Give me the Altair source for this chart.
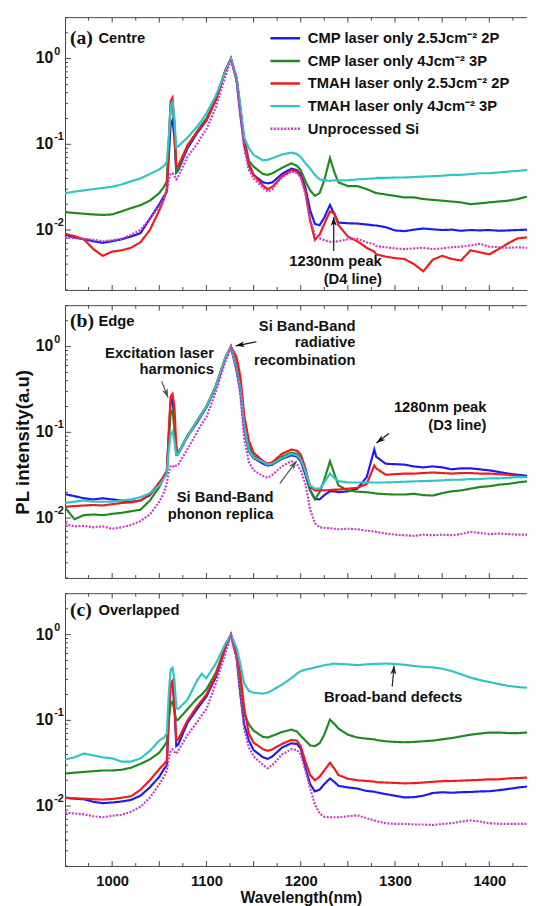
import math
import altair as alt
import pandas as pd

# ---------------- data ----------------
WL = [950, 960, 970, 980, 990, 1000, 1010, 1020, 1030, 1040, 1050,
      1055, 1058, 1060, 1062, 1064, 1066, 1068, 1070,
      1080, 1090, 1095, 1100, 1110, 1120,
      1126, 1132, 1136, 1140, 1145, 1150,
      1160, 1165, 1170, 1180, 1190, 1196, 1200, 1205, 1210, 1215, 1220, 1225, 1231, 1236, 1240,
      1250, 1260, 1270, 1278, 1280,
      1290, 1300, 1310, 1320, 1330, 1340, 1350, 1360, 1370, 1380, 1390, 1400, 1410, 1420, 1430, 1440]

SERIES = ["CMP laser only 2.5Jcm\u207b\u00b2 2P", "CMP laser only 4Jcm\u207b\u00b2 3P",
          "TMAH laser only 2.5Jcm\u207b\u00b2 2P", "TMAH laser only 4Jcm\u207b\u00b2 3P",
          "Unprocessed Si"]
COLORS = ["#1c1cf0", "#1f8a1f", "#f21b1b", "#30c4c4", "#c83ac8"]
DASHES = [[1, 0], [1, 0], [1, 0], [1, 0], [2, 1.5]]

# ---- panel (a) Centre ----
BLUE_A = [0.0088, 0.0082, 0.0078, 0.0074, 0.0071, 0.0074, 0.0078, 0.0084, 0.0092, 0.0135, 0.020,
          0.025, 0.028, 0.07, 0.17, 0.19, 0.12, 0.047, 0.050,
          0.090, 0.135, 0.16, 0.19, 0.33, 0.72,
          1.0, 0.55, 0.22, 0.10, 0.056, 0.044,
          0.036, 0.035, 0.036, 0.045, 0.052, 0.050, 0.045, 0.031, 0.017, 0.0118, 0.0114, 0.014, 0.0196, 0.015, 0.0122,
          0.012, 0.0119, 0.0116, 0.0113, 0.0113,
          0.0108, 0.0099, 0.0097, 0.0101, 0.0104, 0.0102, 0.0100, 0.0101, 0.0098, 0.0100, 0.0099, 0.0100, 0.0098, 0.0099, 0.0100, 0.0101]
GREEN_A = [0.0162, 0.0158, 0.0155, 0.0152, 0.0150, 0.0152, 0.0165, 0.018, 0.0195, 0.022, 0.027,
           0.032, 0.037, 0.10, 0.28, 0.30, 0.16, 0.048, 0.052,
           0.095, 0.14, 0.17, 0.20, 0.34, 0.72,
           1.0, 0.58, 0.25, 0.12, 0.064, 0.055,
           0.045, 0.044, 0.046, 0.053, 0.060, 0.056, 0.050, 0.037, 0.029, 0.025, 0.027, 0.038, 0.069, 0.046, 0.036,
           0.0325, 0.0325, 0.030, 0.0275, 0.027,
           0.026, 0.025, 0.024, 0.024, 0.023, 0.0225, 0.022, 0.0215, 0.021, 0.020, 0.0205, 0.021, 0.0215, 0.022, 0.023, 0.0245]
RED_A = [0.0090, 0.0085, 0.0078, 0.0060, 0.0050, 0.0056, 0.0058, 0.0062, 0.0072, 0.0100, 0.017,
         0.023, 0.030, 0.10, 0.32, 0.35, 0.18, 0.055, 0.056,
         0.098, 0.14, 0.165, 0.19, 0.33, 0.72,
         1.0, 0.60, 0.26, 0.11, 0.060, 0.044,
         0.033, 0.030, 0.032, 0.042, 0.050, 0.048, 0.042, 0.028, 0.0129, 0.0077, 0.0088, 0.0118, 0.0165, 0.0155, 0.0114,
         0.0084, 0.0074, 0.0062, 0.0056, 0.0052,
         0.0049, 0.0047, 0.0046, 0.0040, 0.0033, 0.0045, 0.0050, 0.0046, 0.0044, 0.0058, 0.0055, 0.0052, 0.0060, 0.0070, 0.0080, 0.0082]
CYAN_A = [0.027, 0.028, 0.029, 0.030, 0.031, 0.032, 0.034, 0.037, 0.040, 0.045, 0.051,
          0.056, 0.062, 0.12, 0.28, 0.31, 0.20, 0.092, 0.095,
          0.12, 0.16, 0.19, 0.23, 0.37, 0.70,
          1.0, 0.60, 0.28, 0.12, 0.090, 0.075,
          0.065, 0.066, 0.069, 0.076, 0.080, 0.077, 0.071, 0.060, 0.052, 0.044, 0.039, 0.038, 0.0375, 0.038, 0.038,
          0.038, 0.039, 0.0395, 0.040, 0.0405,
          0.0405, 0.041, 0.041, 0.0415, 0.042, 0.0425, 0.043, 0.044, 0.044, 0.045, 0.046, 0.046, 0.047, 0.048, 0.049, 0.050]
MAG_A = [0.0082, 0.0080, 0.0079, 0.0077, 0.0074, 0.0076, 0.0079, 0.0088, 0.0100, 0.0135, 0.019,
         0.024, 0.029, 0.038, 0.045, 0.046, 0.043, 0.039, 0.042,
         0.072, 0.10, 0.125, 0.15, 0.27, 0.62,
         0.97, 0.55, 0.22, 0.09, 0.050, 0.040,
         0.031, 0.028, 0.030, 0.041, 0.048, 0.046, 0.041, 0.026, 0.013, 0.0088, 0.0080, 0.0076, 0.0073, 0.0073, 0.0074,
         0.0078, 0.0079, 0.0072, 0.0068, 0.0065,
         0.0063, 0.0061, 0.0060, 0.0061, 0.0062, 0.0060, 0.0061, 0.0063, 0.0064, 0.0066, 0.0069, 0.0064, 0.0063, 0.0062, 0.0063, 0.0062]

# ---- panel (b) Edge ----
BLUE_B = [0.019, 0.018, 0.017, 0.0165, 0.017, 0.0165, 0.016, 0.0155, 0.016, 0.0185, 0.025,
          0.031, 0.035, 0.09, 0.23, 0.25, 0.13, 0.055, 0.056,
          0.090, 0.13, 0.16, 0.195, 0.34, 0.72,
          1.0, 0.52, 0.30, 0.11, 0.060, 0.050,
          0.043, 0.041, 0.042, 0.049, 0.054, 0.052, 0.046, 0.032, 0.021, 0.0168, 0.0165, 0.0185, 0.0205, 0.0205, 0.020,
          0.0205, 0.022, 0.030, 0.063, 0.052,
          0.043, 0.0425, 0.042, 0.040, 0.039, 0.040, 0.039, 0.037, 0.038, 0.038, 0.037, 0.036, 0.0345, 0.033, 0.032, 0.031]
GREEN_B = [0.0133, 0.0097, 0.0108, 0.0110, 0.0108, 0.0112, 0.0115, 0.0120, 0.0125, 0.016, 0.023,
           0.030, 0.034, 0.08, 0.17, 0.18, 0.11, 0.055, 0.057,
           0.092, 0.135, 0.165, 0.20, 0.35, 0.73,
           1.0, 0.62, 0.40, 0.14, 0.068, 0.053,
           0.046, 0.043, 0.044, 0.052, 0.058, 0.056, 0.050, 0.035, 0.021, 0.0165, 0.020, 0.028, 0.046, 0.032, 0.024,
           0.021, 0.0203, 0.0200, 0.0195, 0.0193,
           0.019, 0.0188, 0.0188, 0.0192, 0.0185, 0.0183, 0.0195, 0.0205, 0.021, 0.022, 0.023, 0.0235, 0.0245, 0.025, 0.026, 0.0268]
RED_B = [0.0135, 0.0138, 0.0140, 0.0142, 0.0140, 0.0145, 0.0150, 0.0152, 0.0160, 0.019, 0.026,
         0.031, 0.035, 0.10, 0.26, 0.28, 0.20, 0.070, 0.056,
         0.090, 0.135, 0.165, 0.20, 0.35, 0.74,
         1.0, 0.75, 0.45, 0.16, 0.080, 0.058,
         0.046, 0.043, 0.045, 0.056, 0.063, 0.061, 0.055, 0.038, 0.023, 0.021, 0.021, 0.021, 0.0212, 0.0215, 0.0215,
         0.022, 0.0225, 0.025, 0.041, 0.038,
         0.032, 0.0325, 0.033, 0.033, 0.0335, 0.034, 0.0335, 0.033, 0.0335, 0.0335, 0.033, 0.033, 0.0325, 0.032, 0.031, 0.030]
CYAN_B = [0.0150, 0.0155, 0.0160, 0.0155, 0.0155, 0.0155, 0.0160, 0.0165, 0.0175, 0.0195, 0.024,
          0.029, 0.033, 0.060, 0.095, 0.102, 0.080, 0.055, 0.056,
          0.090, 0.135, 0.165, 0.20, 0.35, 0.73,
          1.0, 0.55, 0.32, 0.12, 0.062, 0.051,
          0.045, 0.042, 0.043, 0.050, 0.056, 0.054, 0.048, 0.035, 0.024, 0.022, 0.022, 0.026, 0.033, 0.029, 0.027,
          0.026, 0.026, 0.026, 0.026, 0.026,
          0.026, 0.0262, 0.0265, 0.0268, 0.027, 0.0272, 0.0275, 0.028, 0.028, 0.0285, 0.0285, 0.029, 0.029, 0.0295, 0.030, 0.030]
MAG_B = [0.0085, 0.0080, 0.0081, 0.0078, 0.0080, 0.0075, 0.0078, 0.0083, 0.0092, 0.0110, 0.0155,
         0.020, 0.026, 0.034, 0.040, 0.041, 0.039, 0.041, 0.042,
         0.064, 0.10, 0.125, 0.15, 0.30, 0.66,
         0.97, 0.55, 0.27, 0.085, 0.045, 0.036,
         0.031, 0.0295, 0.032, 0.040, 0.046, 0.043, 0.036, 0.025, 0.0125, 0.0087, 0.0078, 0.0077, 0.0076, 0.0075, 0.0074,
         0.0075, 0.0074, 0.0071, 0.0070, 0.0069,
         0.0066, 0.0064, 0.0063, 0.0062, 0.0064, 0.0063, 0.0064, 0.0063, 0.0065, 0.0069, 0.0067, 0.0065, 0.0066, 0.0065, 0.0064, 0.0064]

# ---- panel (c) Overlapped ----
BLUE_C = [0.0125, 0.0122, 0.0120, 0.0112, 0.0108, 0.0110, 0.0113, 0.0118, 0.0132, 0.0165, 0.022,
          0.027, 0.030, 0.10, 0.26, 0.28, 0.15, 0.050, 0.052,
          0.094, 0.135, 0.16, 0.19, 0.32, 0.70,
          1.0, 0.55, 0.20, 0.09, 0.058, 0.045,
          0.037, 0.0355, 0.038, 0.048, 0.054, 0.053, 0.047, 0.028, 0.018, 0.0148, 0.0155, 0.018, 0.021, 0.019, 0.0172,
          0.0165, 0.016, 0.015, 0.0147, 0.0145,
          0.0138, 0.0132, 0.0126, 0.0127, 0.0132, 0.0142, 0.0145, 0.0143, 0.0145, 0.0146, 0.0148, 0.0149, 0.0153, 0.0158, 0.0164, 0.0169]
GREEN_C = [0.024, 0.0245, 0.025, 0.0255, 0.026, 0.026, 0.0265, 0.028, 0.031, 0.035, 0.042,
           0.050, 0.056, 0.10, 0.155, 0.165, 0.13, 0.10, 0.102,
           0.135, 0.18, 0.20, 0.23, 0.36, 0.72,
           1.0, 0.55, 0.25, 0.12, 0.090, 0.076,
           0.064, 0.063, 0.066, 0.073, 0.078, 0.074, 0.066, 0.058, 0.051, 0.050, 0.054, 0.068, 0.102, 0.090, 0.080,
           0.068, 0.063, 0.061, 0.060, 0.059,
           0.057, 0.056, 0.0555, 0.056, 0.057, 0.058, 0.060, 0.062, 0.065, 0.068, 0.070, 0.072, 0.072, 0.071, 0.071, 0.072]
RED_C = [0.0125, 0.0123, 0.0122, 0.0120, 0.0119, 0.0121, 0.0125, 0.0130, 0.0155, 0.020, 0.027,
         0.031, 0.034, 0.11, 0.27, 0.29, 0.15, 0.058, 0.060,
         0.10, 0.145, 0.17, 0.20, 0.34, 0.72,
         1.0, 0.60, 0.35, 0.14, 0.070, 0.055,
         0.046, 0.044, 0.046, 0.053, 0.059, 0.058, 0.050, 0.033, 0.023, 0.020, 0.022, 0.026, 0.032, 0.027, 0.023,
         0.0208, 0.020, 0.0196, 0.0193, 0.019,
         0.0188, 0.0186, 0.0184, 0.0185, 0.0188, 0.0192, 0.0195, 0.0196, 0.0198, 0.020, 0.0202, 0.0205, 0.0205, 0.021, 0.0212, 0.0215]
CYAN_C = [0.035, 0.037, 0.041, 0.039, 0.037, 0.036, 0.033, 0.033, 0.036, 0.044, 0.058,
          0.063, 0.070, 0.20, 0.39, 0.41, 0.30, 0.14, 0.135,
          0.175, 0.29, 0.35, 0.31, 0.46, 0.78,
          1.0, 0.70, 0.45, 0.27, 0.22, 0.21,
          0.205, 0.21, 0.225, 0.26, 0.31, 0.35, 0.375, 0.39, 0.40, 0.415, 0.425, 0.44, 0.45, 0.46, 0.455,
          0.45, 0.44, 0.45, 0.455, 0.455,
          0.46, 0.455, 0.445, 0.43, 0.42, 0.415, 0.40, 0.375, 0.345, 0.315, 0.295, 0.28, 0.265, 0.252, 0.245, 0.24]
MAG_C = [0.0084, 0.0082, 0.0080, 0.0076, 0.0074, 0.0077, 0.0079, 0.0086, 0.0098, 0.0125, 0.018,
         0.022, 0.026, 0.036, 0.044, 0.046, 0.043, 0.041, 0.044,
         0.068, 0.095, 0.115, 0.135, 0.27, 0.60,
         0.97, 0.50, 0.20, 0.08, 0.048, 0.038,
         0.030, 0.0276, 0.030, 0.040, 0.046, 0.045, 0.040, 0.026, 0.016, 0.0105, 0.0082, 0.0075, 0.0074, 0.0074, 0.0074,
         0.0076, 0.0078, 0.0072, 0.0068, 0.0067,
         0.0063, 0.0062, 0.0062, 0.0061, 0.0061, 0.0060, 0.0062, 0.0063, 0.0066, 0.0068, 0.0066, 0.0063, 0.0062, 0.0062, 0.0062, 0.0062]

PANEL_SERIES = [
    [BLUE_A, GREEN_A, RED_A, CYAN_A, MAG_A],
    [BLUE_B, GREEN_B, RED_B, CYAN_B, MAG_B],
    [BLUE_C, GREEN_C, RED_C, CYAN_C, MAG_C],
]
PANEL_TAGS = ["(a)", "(b)", "(c)"]
PANEL_NAMES = ["Centre", "Edge", "Overlapped"]

# annotation text: (text, wavelength, intensity, align)
ANNOTATIONS = [
    [("1230nm peak", 1286, 0.0044, "right"), ("(D4 line)", 1286, 0.00268, "right")],
    [("Si Band-Band", 1258, 1.73, "right"), ("radiative", 1258, 1.12, "right"),
     ("recombination", 1258, 0.693, "right"),
     ("Excitation laser", 1108, 0.84, "right"), ("harmonics", 1108, 0.54, "right"),
     ("1280nm peak", 1397, 0.196, "right"), ("(D3 line)", 1397, 0.121, "right"),
     ("Si Band-Band", 1171, 0.0175, "right"), ("phonon replica", 1171, 0.011, "right")],
    [("Broad-band defects", 1298, 0.189, "center")],
]
# arrows: (tail w, tail v, head w, head v, colour)
ARROWS = [
    [(1235, 0.0057, 1235, 0.0142, "#111111")],
    [(1153, 1.14, 1131, 1.02, "#111111"), (1052.5, 0.394, 1059.3, 0.254, "#555555"),
     (1293.5, 0.097, 1280.3, 0.075, "#111111"), (1177.8, 0.0252, 1195.6, 0.0465, "#555555")],
    [(1297, 0.246, 1299, 0.435, "#222222")],
]

XTICK_MAJOR = [1000, 1050, 1100, 1150, 1200, 1250, 1300, 1350, 1400]
XTICK_MINOR = [975, 1025, 1075, 1125, 1175, 1225, 1275, 1325, 1375, 1425]
XLABELS = [1000, 1100, 1200, 1300, 1400]
YTICK_MAJOR = [0.01, 0.1, 1]
YTICK_MINOR = [0.002, 0.003, 0.004, 0.005, 0.006, 0.007, 0.008, 0.009,
               0.02, 0.03, 0.04, 0.05, 0.06, 0.07, 0.08, 0.09,
               0.2, 0.3, 0.4, 0.5, 0.6, 0.7, 0.8, 0.9, 2, 3]
YLAB_VALUES = [1, 0.1, 0.01]
YLAB_EXP = ["0", "-1", "-2"]

# ---------------- layout ----------------
W, H = 470, 277
XDOM = [950, 1440]
YDOM = [0.002, 3]
FONT = "Liberation Sans"
FRAME = "#444444"

for s in PANEL_SERIES:
    for v in s:
        assert len(v) == len(WL)


def px(w):
    return (w - XDOM[0]) / (XDOM[1] - XDOM[0]) * W


def py(v):
    lo, hi = math.log10(YDOM[0]), math.log10(YDOM[1])
    return (hi - math.log10(v)) / (hi - lo) * H


ARROW_PATH = "M0,0L0.65,1.9L0,1.4L-0.65,1.9Z"


def panel(idx):
    last = idx == 2
    if last:
        xaxis = alt.Axis(values=XLABELS, format="d", ticks=False, grid=False, domain=True, domainColor=FRAME,
                         labelFont=FONT, labelFontSize=15, labelFontWeight="bold", labelColor="#111",
                         labelPadding=8, title="Wavelength(nm)", titleFont=FONT, titleFontSize=16,
                         titleFontWeight="bold", titleColor="#111", titlePadding=1, titleX=240)
    else:
        xaxis = alt.Axis(labels=False, ticks=False, grid=False, domain=True, domainColor=FRAME, title=None)
    if idx == 1:
        yaxis = alt.Axis(labels=False, ticks=False, grid=False, domain=True, domainColor=FRAME,
                         title="PL intensity(a.u)", titleFont=FONT, titleFontSize=19,
                         titleFontWeight="bold", titleColor="#111", titleX=-33)
    else:
        yaxis = alt.Axis(labels=False, ticks=False, grid=False, domain=True, domainColor=FRAME, title=None)

    xs = alt.Scale(domain=XDOM, nice=False, zero=False)
    ys = alt.Scale(type="log", domain=YDOM, nice=False)
    X = alt.X("w:Q", scale=xs, axis=xaxis)
    Y = alt.Y("v:Q", scale=ys, axis=yaxis)

    rows = []
    for k, vals in enumerate(PANEL_SERIES[idx]):
        for w, v in zip(WL, vals):
            rows.append({"w": w, "v": v, "s": SERIES[k]})
    df = pd.DataFrame(rows)

    if idx == 0:
        leg = alt.Legend(orient="none", legendX=215, legendY=12, title=None,
                         symbolType="M-2,0H2", symbolSize=225, symbolStrokeWidth=2.5,
                         labelFont=FONT, labelFontSize=15, labelFontWeight="bold", labelColor="#111",
                         labelOffset=14, rowPadding=6, padding=0, labelLimit=400)
    else:
        leg = None
    color = alt.Color("s:N", scale=alt.Scale(domain=SERIES, range=COLORS), legend=leg)
    dash = alt.StrokeDash("s:N", scale=alt.Scale(domain=SERIES, range=DASHES), legend=leg)

    lines = alt.Chart(df).mark_line(strokeWidth=2.2, clip=True).encode(x=X, y=Y, color=color, strokeDash=dash)

    # inward ticks
    xmaj = pd.DataFrame({"w": XTICK_MAJOR})
    xmin = pd.DataFrame({"w": XTICK_MINOR})
    tick_style = dict(color=FRAME, strokeWidth=1)
    t1 = alt.Chart(xmaj).mark_rule(**tick_style).encode(x=X, y=alt.value(H), y2=alt.value(H - 5))
    t2 = alt.Chart(xmin).mark_rule(**tick_style).encode(x=X, y=alt.value(H), y2=alt.value(H - 3))
    t3 = alt.Chart(xmaj).mark_rule(**tick_style).encode(x=X, y=alt.value(0), y2=alt.value(5))
    t4 = alt.Chart(xmin).mark_rule(**tick_style).encode(x=X, y=alt.value(0), y2=alt.value(3))
    ymaj = pd.DataFrame({"v": YTICK_MAJOR})
    ymin = pd.DataFrame({"v": YTICK_MINOR})
    t5 = alt.Chart(ymaj).mark_rule(**tick_style).encode(y=Y, x=alt.value(0), x2=alt.value(6))
    t6 = alt.Chart(ymin).mark_rule(**tick_style).encode(y=Y, x=alt.value(0), x2=alt.value(3))
    top = alt.Chart(pd.DataFrame({"a": [0]})).mark_rule(color=FRAME, strokeWidth=1).encode(
        x=alt.value(0), x2=alt.value(W), y=alt.value(0))

    # y tick labels 10^n
    ylab = pd.DataFrame({"v": YLAB_VALUES, "e": YLAB_EXP, "b": ["10"] * 3})
    yl1 = alt.Chart(ylab).mark_text(align="right", baseline="middle", font=FONT, fontSize=16,
                                    fontWeight="bold", color="#111").encode(y=Y, x=alt.value(-12), text="b:N")
    yl2 = alt.Chart(ylab).mark_text(align="left", baseline="middle", font=FONT, fontSize=11,
                                    fontWeight="bold", color="#111", dy=-7).encode(y=Y, x=alt.value(-11), text="e:N")

    # panel tag and name
    tag = alt.Chart(pd.DataFrame({"t": [PANEL_TAGS[idx]]})).mark_text(
        align="left", baseline="middle", font="Liberation Serif", fontSize=20, fontWeight="bold",
        color="#111").encode(x=alt.value(5), y=alt.value([21, 16, 17][idx]), text="t:N")
    name = alt.Chart(pd.DataFrame({"t": [PANEL_NAMES[idx]]})).mark_text(
        align="left", baseline="middle", font=FONT, fontSize=15, fontWeight="bold",
        color="#111").encode(x=alt.value(34), y=alt.value([21, 16, 17][idx]), text="t:N")

    layers = [t1, t2, t3, t4, t5, t6, top, lines, yl1, yl2, tag, name]

    ann = pd.DataFrame([{"t": a[0], "w": a[1], "v": a[2], "al": a[3]} for a in ANNOTATIONS[idx]])
    for al in ["right", "center", "left"]:
        sub = ann[ann["al"] == al]
        if len(sub):
            layers.append(alt.Chart(sub).mark_text(align=al, baseline="middle", font=FONT, fontSize=15,
                                                   fontWeight="bold", color="#111").encode(x=X, y=Y, text="t:N"))

    arr = []
    for (w1, v1, w2, v2, c) in ARROWS[idx]:
        dx = px(w2) - px(w1)
        dy = py(v2) - py(v1)
        ang = math.degrees(math.atan2(dx, -dy)) % 360
        arr.append({"w": w1, "v": v1, "w2": w2, "v2": v2, "c": c, "ang": ang})
    adf = pd.DataFrame(arr)
    shaft = alt.Chart(adf).mark_rule(strokeWidth=1.2).encode(
        x=X, y=Y, x2="w2:Q", y2="v2:Q", color=alt.Color("c:N", scale=None))
    head = alt.Chart(adf).mark_point(shape=ARROW_PATH, filled=True, size=90, opacity=1, strokeWidth=0).encode(
        x=alt.X("w2:Q", scale=xs, axis=xaxis), y=alt.Y("v2:Q", scale=ys, axis=yaxis),
        angle=alt.Angle("ang:Q", scale=None), color=alt.Color("c:N", scale=None))
    layers += [shaft, head]

    return alt.layer(*layers).properties(width=W, height=H).resolve_scale(color="independent",
                                                                          strokeDash="independent")


chart = alt.vconcat(panel(0), panel(1), panel(2), spacing=14).resolve_scale(
    color="independent", strokeDash="independent").resolve_legend(
    color="independent", strokeDash="independent").properties(
    padding={"left": 6, "top": 1, "right": 0, "bottom": 0}, background="white"
).configure_view(stroke=None)

chart.save("out.html", embed_options={"renderer": "svg", "actions": False})
